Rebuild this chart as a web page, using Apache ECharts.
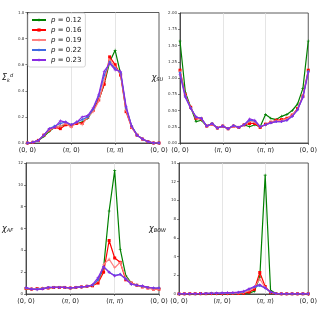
<!DOCTYPE html>
<html>
<head>
<meta charset="utf-8">
<script src="https://cdn.jsdelivr.net/npm/echarts@6/dist/echarts.min.js"></script>
<style>
  html, body { margin: 0; padding: 0; background: #fff; }
  #main { width: 320px; height: 320px; }
</style>
</head>
<body>
<div id="main"></div>
<script>
// path (0,0) -> (pi,0) -> (pi,pi) -> (0,0), 8 steps per leg
var kIndex = [];
for (var n = 0; n < 25; n++) kIndex.push(String(n));
var tickLabels = ['(0, 0)', '({i|π}, 0)', '({i|π}, {i|π})', '(0, 0)'];
var tickStep = 8;

var names = ['p = 0.12', 'p = 0.16', 'p = 0.19', 'p = 0.22', 'p = 0.23'];
var colors = ['#008000', '#ff0000', '#ff8080', '#4169e1', '#8a2be2'];

var plus = 'path://M4,0h2v4h4v2h-4v4h-2v-4h-4v-2h4z';
var symbols = [plus, 'rect', plus, 'diamond', plus];

// Sigma^d_k
var sigma012 = [0, 0.005, 0.02, 0.05, 0.09, 0.12, 0.13, 0.14, 0.14, 0.15, 0.16, 0.19, 0.25, 0.33, 0.45, 0.62, 0.71, 0.53, 0.26, 0.13, 0.06, 0.03, 0.01, 0.0, 0.0];
var sigma016 = [0, 0.005, 0.02, 0.06, 0.10, 0.12, 0.11, 0.14, 0.13, 0.15, 0.15, 0.20, 0.25, 0.33, 0.45, 0.66, 0.60, 0.52, 0.24, 0.12, 0.06, 0.03, 0.01, 0.0, 0.0];
var sigma019 = [0, 0.005, 0.02, 0.06, 0.10, 0.12, 0.13, 0.15, 0.12, 0.16, 0.14, 0.20, 0.24, 0.32, 0.48, 0.64, 0.58, 0.53, 0.25, 0.12, 0.06, 0.03, 0.01, 0.0, 0.0];
var sigma022 = [0, 0.005, 0.02, 0.06, 0.11, 0.13, 0.15, 0.16, 0.14, 0.16, 0.18, 0.20, 0.26, 0.36, 0.52, 0.62, 0.57, 0.54, 0.27, 0.13, 0.06, 0.03, 0.01, 0.0, 0.0];
var sigma023 = [0, 0.005, 0.02, 0.06, 0.11, 0.12, 0.17, 0.16, 0.14, 0.16, 0.20, 0.21, 0.27, 0.37, 0.55, 0.61, 0.56, 0.55, 0.28, 0.13, 0.06, 0.03, 0.01, 0.0, 0.0];

// chi_SU
var su012 = [1.57, 0.78, 0.55, 0.33, 0.35, 0.26, 0.30, 0.23, 0.26, 0.22, 0.27, 0.24, 0.28, 0.25, 0.28, 0.25, 0.44, 0.38, 0.36, 0.41, 0.44, 0.50, 0.60, 0.84, 1.57];
var su016 = [1.12, 0.74, 0.55, 0.38, 0.37, 0.26, 0.29, 0.23, 0.26, 0.22, 0.26, 0.24, 0.28, 0.30, 0.30, 0.24, 0.29, 0.32, 0.35, 0.36, 0.38, 0.43, 0.53, 0.72, 1.12];
var su019 = [1.10, 0.73, 0.54, 0.39, 0.37, 0.26, 0.29, 0.23, 0.26, 0.22, 0.26, 0.24, 0.28, 0.33, 0.32, 0.25, 0.28, 0.32, 0.34, 0.35, 0.37, 0.43, 0.52, 0.72, 1.10];
var su022 = [1.08, 0.72, 0.54, 0.40, 0.38, 0.26, 0.30, 0.23, 0.26, 0.22, 0.27, 0.24, 0.28, 0.35, 0.34, 0.25, 0.28, 0.31, 0.33, 0.33, 0.35, 0.41, 0.51, 0.71, 1.10];
var su023 = [1.05, 0.70, 0.53, 0.40, 0.38, 0.26, 0.30, 0.23, 0.26, 0.22, 0.27, 0.24, 0.28, 0.37, 0.35, 0.25, 0.28, 0.31, 0.33, 0.33, 0.35, 0.41, 0.51, 0.70, 1.08];

// chi_AF
var af012 = [0.5, 0.45, 0.45, 0.5, 0.55, 0.6, 0.6, 0.6, 0.55, 0.6, 0.65, 0.7, 0.8, 1.2, 2.4, 7.6, 11.3, 4.1, 1.7, 1.0, 0.8, 0.7, 0.6, 0.5, 0.5];
var af016 = [0.5, 0.45, 0.5, 0.5, 0.55, 0.6, 0.6, 0.6, 0.55, 0.6, 0.65, 0.7, 0.75, 1.0, 2.0, 4.9, 3.3, 2.9, 1.3, 1.0, 0.8, 0.65, 0.55, 0.45, 0.45];
var af019 = [0.5, 0.5, 0.5, 0.55, 0.55, 0.6, 0.6, 0.6, 0.55, 0.6, 0.65, 0.7, 0.8, 1.2, 2.7, 3.2, 2.4, 2.9, 1.5, 1.0, 0.8, 0.65, 0.55, 0.45, 0.45];
var af022 = [0.55, 0.45, 0.45, 0.5, 0.6, 0.6, 0.6, 0.6, 0.55, 0.6, 0.65, 0.7, 0.8, 1.3, 2.5, 2.0, 1.7, 1.8, 1.4, 0.9, 0.8, 0.7, 0.6, 0.55, 0.55];
var af023 = [0.6, 0.45, 0.4, 0.45, 0.6, 0.6, 0.6, 0.6, 0.55, 0.6, 0.65, 0.7, 0.85, 1.5, 2.5, 2.0, 1.65, 1.8, 1.35, 0.9, 0.8, 0.75, 0.6, 0.55, 0.55];

// chi_BOW
var bow012 = [0.02, 0.02, 0.02, 0.03, 0.03, 0.03, 0.04, 0.04, 0.04, 0.04, 0.05, 0.05, 0.06, 0.1, 0.3, 1.8, 12.7, 0.4, 0.05, 0.03, 0.02, 0.02, 0.02, 0.02, 0.02];
var bow016 = [0.02, 0.02, 0.03, 0.03, 0.04, 0.04, 0.05, 0.05, 0.05, 0.05, 0.06, 0.06, 0.08, 0.2, 0.5, 2.3, 0.8, 0.15, 0.05, 0.02, 0.02, 0.02, 0.02, 0.02, 0.02];
var bow019 = [0.02, 0.02, 0.03, 0.03, 0.04, 0.05, 0.06, 0.06, 0.07, 0.08, 0.08, 0.1, 0.15, 0.35, 0.7, 1.6, 0.7, 0.2, 0.05, 0.02, 0.02, 0.02, 0.02, 0.02, 0.02];
var bow022 = [0.02, 0.02, 0.03, 0.04, 0.05, 0.06, 0.07, 0.08, 0.1, 0.12, 0.12, 0.15, 0.25, 0.5, 0.75, 0.9, 0.65, 0.2, 0.05, 0.02, 0.02, 0.02, 0.02, 0.02, 0.02];
var bow023 = [0.02, 0.02, 0.03, 0.04, 0.05, 0.06, 0.08, 0.1, 0.12, 0.15, 0.15, 0.2, 0.3, 0.55, 0.8, 1.0, 0.65, 0.25, 0.05, 0.02, 0.02, 0.02, 0.02, 0.02, 0.02];

var panels = [
  { data: [sigma012, sigma016, sigma019, sigma022, sigma023], max: 1.0, interval: 0.2, digits: 1,
    name: '{c|Σ}{sub|k}{sup|d}', gap: 11, grid: { left: 26, top: 12.5, width: 133, height: 130.5 } },
  { data: [su012, su016, su019, su022, su023], max: 2.0, interval: 0.25, digits: 2,
    name: '{c|χ}{sub|SU}', gap: 8, grid: { left: 180, top: 13, width: 133, height: 130 } },
  { data: [af012, af016, af019, af022, af023], max: 12, interval: 2, digits: 0,
    name: '{c|χ}{sub|AF}', gap: 10, grid: { left: 26, top: 163, width: 133, height: 131 } },
  { data: [bow012, bow016, bow019, bow022, bow023], max: 14, interval: 2, digits: 0,
    name: '{c|χ}{sub|BOW}', gap: 2, grid: { left: 179, top: 163, width: 134, height: 131 } }
];

var nameRich = {
  c: { fontSize: 8, fontStyle: 'italic', color: '#111', fontFamily: 'DejaVu Sans' },
  sub: { fontSize: 5, fontStyle: 'italic', color: '#111', verticalAlign: 'bottom', padding: [4, 0, 0, 0], fontFamily: 'DejaVu Sans' },
  sup: { fontSize: 5, fontStyle: 'italic', color: '#111', padding: [0, 0, 5, 0], fontFamily: 'DejaVu Sans' }
};

var grids = [], xAxes = [], yAxes = [], series = [];
panels.forEach(function (p, gi) {
  grids.push(Object.assign({ show: true, borderColor: '#333', borderWidth: 0.8, backgroundColor: 'transparent' }, p.grid));
  xAxes.push({
    type: 'category', gridIndex: gi, data: kIndex, boundaryGap: false,
    axisLine: { show: true, lineStyle: { color: '#333', width: 0.8 } },
    axisTick: { show: true, length: 2, interval: function (i) { return i % tickStep === 0; }, lineStyle: { color: '#333', width: 0.6 } },
    axisLabel: {
      interval: function (i) { return i % tickStep === 0; },
      formatter: function (v, i) { return tickLabels[i / tickStep]; },
      fontSize: 6.5, color: '#222', margin: 4, fontFamily: 'DejaVu Sans',
      rich: { i: { fontSize: 6.5, fontStyle: 'italic', color: '#222', fontFamily: 'DejaVu Sans' } }
    },
    splitLine: { show: true, interval: function (i) { return i > 0 && i < kIndex.length - 1 && i % tickStep === 0; }, lineStyle: { color: '#dedede', width: 0.8 } }
  });
  yAxes.push({
    type: 'value', gridIndex: gi, min: 0, max: p.max, interval: p.interval,
    name: p.name, nameLocation: 'middle', nameRotate: 0, nameGap: p.gap,
    nameTextStyle: { rich: nameRich },
    axisLine: { show: true, lineStyle: { color: '#333', width: 0.8 } },
    axisTick: { show: true, length: 2, lineStyle: { color: '#333', width: 0.6 } },
    axisLabel: { fontSize: 4, color: '#333', margin: 3, fontFamily: 'DejaVu Sans',
      formatter: function (v) { return v.toFixed(p.digits); } },
    splitLine: { show: false }
  });
  p.data.forEach(function (arr, si) {
    series.push({
      name: names[si], type: 'line', xAxisIndex: gi, yAxisIndex: gi,
      data: arr, color: colors[si],
      symbol: symbols[si], symbolSize: 3, showSymbol: true,
      lineStyle: { width: 1.2, color: colors[si] },
      itemStyle: { color: colors[si] },
      animation: false, z: 2 + si
    });
  });
});

var chart = echarts.init(document.getElementById('main'), null, { renderer: 'canvas' });
chart.setOption({
  animation: false,
  backgroundColor: '#fff',
  grid: grids, xAxis: xAxes, yAxis: yAxes, series: series,
  legend: {
    data: names, left: 28, top: 13, orient: 'vertical',
    itemWidth: 14, itemHeight: 4, itemGap: 2,
    padding: [3, 4, 3, 3],
    borderColor: '#cccccc', borderWidth: 0.8, borderRadius: 2,
    backgroundColor: 'rgba(255,255,255,0.8)',
    formatter: function (name) { return '{i|p}' + name.slice(1); },
    textStyle: { fontSize: 7, color: '#111', lineHeight: 8, fontFamily: 'DejaVu Sans',
      rich: { i: { fontSize: 7, fontStyle: 'italic', color: '#111', fontFamily: 'DejaVu Sans' } } }
  }
});
</script>
</body>
</html>
